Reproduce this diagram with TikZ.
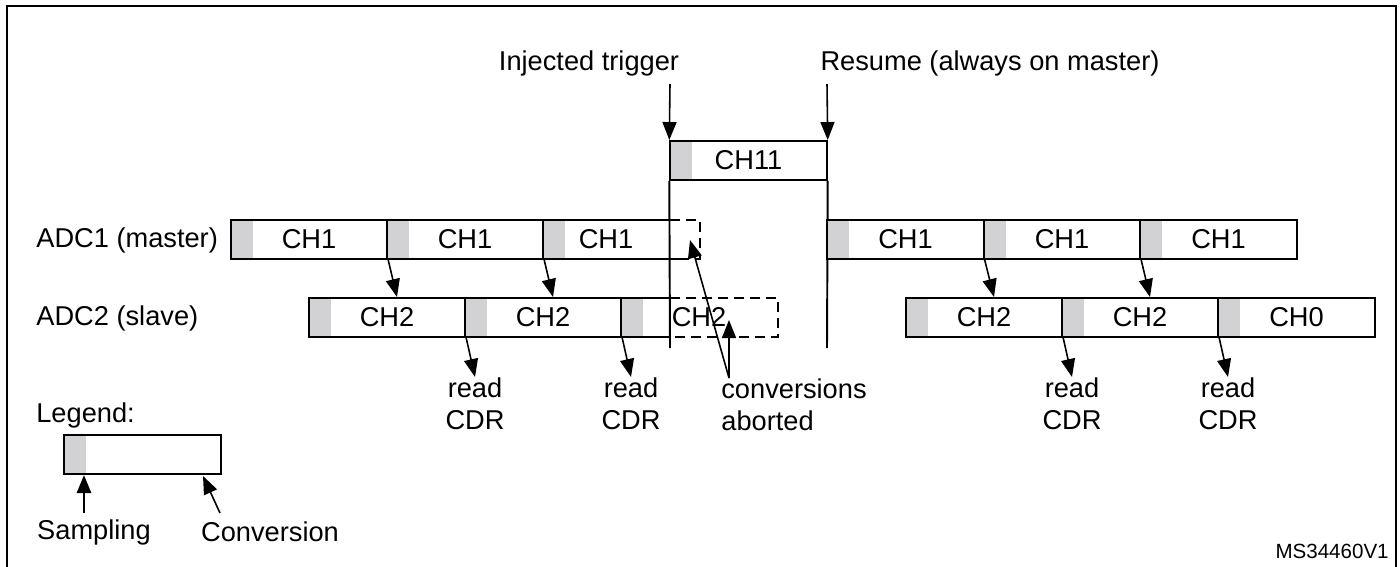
\documentclass[tikz,border=0pt]{standalone}
\usepackage{fontspec}
\setmainfont{Liberation Sans}
\usetikzlibrary{arrows.meta,calc}
\definecolor{sampGray}{HTML}{D2D2D4}

\begin{document}
\begin{tikzpicture}[x=0.02cm, y=-0.02cm, >={Triangle[length=0.36cm,width=0.28cm]},
    font=\fontsize{15.5}{18.5}\selectfont,
    slot/.style={draw, line width=1.1pt, minimum width=3.13cm, minimum height=0.78cm, inner sep=0pt,
        path picture={\fill[sampGray] (path picture bounding box.south west)
            rectangle ([xshift=0.44cm]path picture bounding box.north west);}},
    ptr/.style={->, line width=0.9pt},
    cut/.style={line width=1.1pt, dash pattern=on 0.2cm off 0.12cm}]
    \def\rowM{239.5}
    \def\rowS{317.5}
    \useasboundingbox (0,0) rectangle (1400,566);

    % ---------- frame ----------
    \draw[line width=1.2pt] (7,570) -- (7,6) -- (1396,6) -- (1396,570);

    % ---------- labels ----------
    \node (trig) at (589,63) {Injected trigger};
    \node (resm) at (990,63) {Resume (always on master)};
    \node[anchor=west, inner sep=0pt] (adc1) at (36,240) {ADC1 (master)};
    \node[anchor=west, inner sep=0pt] (adc2) at (36,318) {ADC2 (slave)};

    % ---------- injected conversion ----------
    \node[slot] (c11) at (748.5,160.5) {CH11};
    \coordinate (trigTop) at (670,84);
    \coordinate (resmTop) at (827,84);
    \draw[ptr] (trigTop) -- (c11.north west);
    \draw[ptr] (resmTop) -- (c11.north east);
    \draw[line width=1.1pt] (c11.south west) -- (670,348);
    \draw[line width=1.1pt] (c11.south east) -- (827,348);

    % ---------- regular conversions ----------
    \foreach \n/\x/\t in {m1/309/CH1, m2/465/CH1, m4/905.5/CH1, m5/1062/CH1, m6/1218.5/CH1}
        \node[slot] (\n) at (\x,\rowM) {\t};
    \foreach \n/\x/\t in {s1/387/CH2, s2/543/CH2, s4/984/CH2, s5/1140/CH2, s6/1296.5/CH0}
        \node[slot] (\n) at (\x,\rowS) {\t};

    % ---------- aborted conversions ----------
    \fill[sampGray] (543,220) rectangle (565,259);
    \draw[line width=1.1pt] (670,220) -- (543,220) -- (543,259) -- (683,259);
    \draw[cut] (670,220) -- (700,220) -- (700,259) -- (683,259);
    \node (m3) at (606,\rowM) {CH1};
    \fill[sampGray] (621,298) rectangle (643,337);
    \draw[line width=1.1pt] (670,298) -- (621,298) -- (621,337) -- (670,337);
    \draw[cut] (670,298) -- (778,298) -- (778,337) -- (670,337);
    \node (s3) at (699,\rowS) {CH2};

    % ---------- master to slave ----------
    \foreach \a/\b in {m1/s1, m2/s2, m4/s4, m5/s5}
        \draw[ptr] (\a.south east) -- ([xshift=0.2cm]\b.north);

    % ---------- read CDR ----------
    \foreach \b/\r/\x in {s1/r1/475, s2/r2/631, s4/r3/1072, s5/r4/1228} {
        \node[anchor=north, align=center, inner sep=0pt] (\r) at (\x,377) {read\\CDR};
        \draw[ptr] (\b.south east) -- (\r.north);
    }

    % ---------- aborted note ----------
    \node[anchor=north west, align=left, inner sep=0pt] (abt) at (721,378) {conversions\\aborted};
    \coordinate (abtTip) at ([xshift=0.16cm]abt.north west);
    \coordinate (m3hit) at (690,240);
    \coordinate (s3hit) at (729,320);
    \draw[ptr] (abtTip) -- (m3hit);
    \draw[ptr] (abtTip) -- (s3hit);

    % ---------- legend ----------
    \node[anchor=west, inner sep=0pt] (lgnd) at (36,415) {Legend:};
    \node[slot] (lbox) at (142.5,454.5) {};
    \node (samp) at (94,532) {Sampling};
    \node (conv) at (270,532) {Conversion};
    \coordinate (sampTop) at (84,513);
    \coordinate (convTop) at (220,513);
    \coordinate (convTip) at (203,476);
    \draw[ptr, line width=1.6pt] (sampTop) -- (84,475);
    \draw[ptr] (convTop) -- (convTip);

    \node[anchor=east, inner sep=0pt, font=\fontsize{11.7}{14}\selectfont] (tag) at (1389,551) {MS34460V1};
\end{tikzpicture}
\end{document}
